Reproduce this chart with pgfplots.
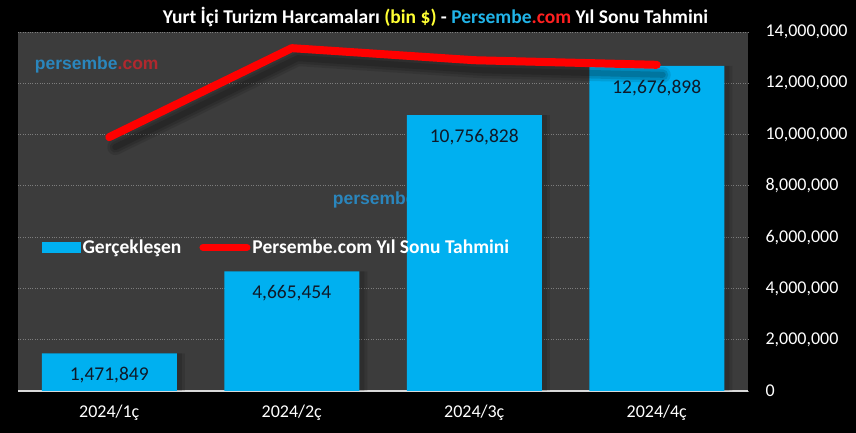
\documentclass[border=0pt]{standalone}
\usepackage{fontspec}
\setmainfont{Carlito}
\newfontfamily\wmfont{Liberation Sans}
\usepackage{pgfplots}
\usepackage{pgfplotstable}
\pgfplotsset{compat=1.18}
\definecolor{barc}{HTML}{00B0F0}
\definecolor{plotbg}{HTML}{3C3C3C}
\definecolor{wmblue}{HTML}{2A86BD}
\definecolor{wmred}{HTML}{B0282E}
\definecolor{ttlblue}{HTML}{21B4E8}
\definecolor{ttlred}{HTML}{FF2020}
\definecolor{ttlyellow}{HTML}{FFFF33}

\pgfplotstableread{
x y label
0 1471849 1,471,849
1 4665454 4,665,454
2 10756828 10,756,828
3 12676898 12,676,898
}\bars

\pgfplotstableread{
x y
0 9900000
1 13370000
2 12900000
3 12720000
}\forecast

\begin{document}
\begin{tikzpicture}[x=1pt,y=1pt]
\fill[black] (0,0) rectangle (856,433);
\begin{axis}[
  at={(18pt,42pt)}, anchor=south west,
  scale only axis, width=730pt, height=359pt,
  axis background/.style={fill=plotbg},
  xmin=-0.5, xmax=3.5, ymin=0, ymax=14000000,
  axis x line*=bottom, axis y line*=right,
  x axis line style={draw={rgb,255:red,217;green,217;blue,217}, line width=2pt},
  y axis line style={draw=none},
  major tick length=0pt,
  xtick={0,1,2,3},
  xticklabels={2024/1ç,2024/2ç,2024/3ç,2024/4ç},
  xticklabel style={text=white, font=\fontsize{18}{18}\selectfont, yshift=-10pt},
  ytick={0,2000000,4000000,6000000,8000000,10000000,12000000,14000000},
  yticklabels={0,{2,000,000},{4,000,000},{6,000,000},{8,000,000},{10,000,000},{12,000,000},{14,000,000}},
  yticklabel style={text=white, font=\fontsize{18}{18}\selectfont, xshift=14pt},
  scaled y ticks=false,
  ymajorgrids,
  grid style={dotted, draw={rgb,255:red,125;green,125;blue,125}, line width=0.8pt},
  legend style={at={(rel axis cs:0.032,0.40)}, anchor=west, draw=none, fill=none,
    text=white, font=\bfseries\fontsize{19.5}{19.5}\selectfont, inner sep=0pt,
    legend columns=2,
    /tikz/every even column/.append style={column sep=16pt}},
  legend cell align=left,
  clip=false,
]
\node[anchor=west, font=\wmfont\bfseries\fontsize{17.5}{17.5}\selectfont, inner sep=0pt]
  at (rel axis cs:0.023,0.907) {\textcolor{wmblue}{persembe}\textcolor{wmred}{.com}};
\node[anchor=west, font=\wmfont\bfseries\fontsize{17.5}{17.5}\selectfont, inner sep=0pt]
  at (rel axis cs:0.431,0.532) {\textcolor{wmblue}{persembe}\textcolor{wmred}{.com}};
% bar shadows (soft)
\addplot[ybar, bar width=135pt, bar shift=8pt, fill=black, draw=none, opacity=0.10, forget plot]
  table[x=x, y=y] {\bars};
\addplot[ybar, bar width=135pt, bar shift=5pt, fill=black, draw=none, opacity=0.12, forget plot]
  table[x=x, y=y] {\bars};
% bars
\addplot[ybar, bar width=135pt, bar shift=0pt, fill=barc, draw=none,
  point meta=explicit symbolic,
  nodes near coords,
  every node near coord/.append style={anchor=center, yshift=-22pt,
    text={rgb,255:red,15;green,25;blue,40}, font=\fontsize{19.5}{19.5}\selectfont},
  legend image code/.code={\fill[barc] (0pt,-5.5pt) rectangle (39pt,5.5pt);}]
  table[x=x, y=y, meta=label] {\bars};
\addlegendentry{Gerçekleşen}
% line shadow (soft, layered)
\addplot[black, opacity=0.10, line width=16pt, line cap=round, line join=round, xshift=6pt, yshift=-10pt, forget plot]
  table[x=x, y=y] {\forecast};
\addplot[black, opacity=0.12, line width=11pt, line cap=round, line join=round, xshift=6pt, yshift=-10pt, forget plot]
  table[x=x, y=y] {\forecast};
\addplot[black, opacity=0.15, line width=6pt, line cap=round, line join=round, xshift=6pt, yshift=-10pt, forget plot]
  table[x=x, y=y] {\forecast};
\addplot[red, line width=8pt, line cap=round, line join=round,
  legend image code/.code={\draw[red, line width=7pt, line cap=round] (0pt,0pt) -- (44pt,0pt);}]
  table[x=x, y=y] {\forecast};
\addlegendentry{Persembe.com Yıl Sonu Tahmini}
\end{axis}
\node[font=\bfseries\fontsize{19.5}{19.5}\selectfont, text=white] at (435.5,416)
  {Yurt İçi Turizm Harcamaları \textcolor{ttlyellow}{(bin \$)} - \textcolor{ttlblue}{Persembe}\textcolor{ttlred}{.com} Yıl Sonu Tahmini};
\pgfresetboundingbox
\path[use as bounding box] (0,0) rectangle (856,433);
\end{tikzpicture}
\end{document}
